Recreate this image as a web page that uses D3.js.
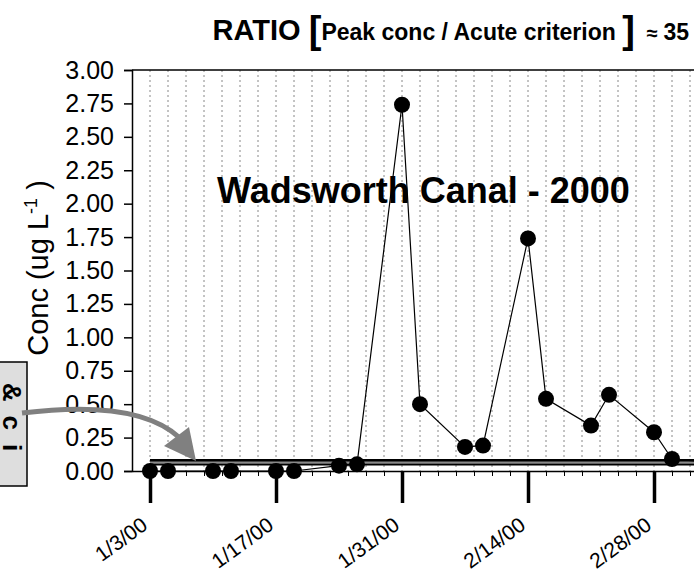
<!DOCTYPE html>
<html>
<head>
<meta charset="utf-8">
<script src="https://cdn.jsdelivr.net/npm/d3@7"></script>
<style>
  body { margin: 0; background: #fff; }
  svg { display: block; font-family: "Liberation Sans", Arial, sans-serif; }
  .narrow { font-family: "Liberation Sans Narrow", "Arial Narrow", "Liberation Sans", sans-serif; font-weight: bold; }
</style>
</head>
<body>
<div id="chart"></div>
<script>
// sample dates and measured concentrations (ug/L)
const sampleDates = ["2000-01-03", "2000-01-05", "2000-01-10", "2000-01-12", "2000-01-17", "2000-01-19",
  "2000-01-24", "2000-01-26", "2000-01-31", "2000-02-02", "2000-02-07", "2000-02-09", "2000-02-14",
  "2000-02-16", "2000-02-21", "2000-02-23", "2000-02-28", "2000-03-01", "2000-03-06"];
const concValues = [0, 0, 0, 0, 0, 0, 0.04, 0.05, 2.74, 0.50, 0.18, 0.19, 1.74, 0.54, 0.34, 0.57, 0.29, 0.09, 0.06];

// criterion lines (acute, mid, chronic)
const criteria = [0.078, 0.064, 0.049];

const yTicks = [0, 0.25, 0.5, 0.75, 1, 1.25, 1.5, 1.75, 2, 2.25, 2.5, 2.75, 3];
const xTickDates = ["2000-01-03", "2000-01-17", "2000-01-31", "2000-02-14", "2000-02-28"];
const xTickLabels = ["1/3/00", "1/17/00", "1/31/00", "2/14/00", "2/28/00"];

(function () {

  const width = 694, height = 571;
  const parse = d3.utcParse('%Y-%m-%d');

  const svg = d3.select('#chart')
    .append('svg')
    .attr('width', width)
    .attr('height', height);

  const x = d3.scaleUtc()
    .domain([parse('2000-01-01'), parse('2000-03-04')])
    .range([132, 699]);

  const y = d3.scaleLinear()
    .domain([0, 3])
    .range([471, 70]);

  const start = parse(xTickDates[0]);
  const end = x.domain()[1];
  const everyOther = d3.utcDay.range(start, end, 2);

  // dotted vertical grid
  svg.append('g')
    .selectAll('line')
    .data(everyOther)
    .join('line')
    .attr('x1', d => x(d)).attr('x2', d => x(d))
    .attr('y1', y(3)).attr('y2', y(0))
    .attr('stroke', '#888')
    .attr('stroke-width', 1)
    .attr('stroke-dasharray', '2,3');

  // top frame line
  svg.append('line')
    .attr('x1', x.range()[0]).attr('x2', x.range()[1])
    .attr('y1', y(3)).attr('y2', y(3))
    .attr('stroke', 'black').attr('stroke-width', 1.5);

  // y axis
  const yAxis = svg.append('g')
    .attr('transform', `translate(${x.range()[0]},0)`)
    .call(d3.axisLeft(y).tickValues(yTicks).tickSize(8).tickPadding(10).tickFormat(d3.format('.2f')));
  yAxis.select('.domain').attr('stroke-width', 1.5);
  yAxis.selectAll('text').attr('font-size', 25).attr('fill', 'black')
    .attr('font-family', '"Liberation Sans", Arial, sans-serif');
  yAxis.selectAll('line').attr('stroke-width', 1.5);

  // x axis: minor ticks every 2 days
  const xMinor = svg.append('g')
    .attr('transform', `translate(0,${y(0)})`)
    .call(d3.axisBottom(x).tickValues(everyOther).tickSize(5).tickFormat('').tickSizeOuter(0));
  xMinor.select('.domain').attr('stroke-width', 1.5);

  // x axis: major ticks every 14 days
  const xMajor = svg.append('g')
    .attr('transform', `translate(0,${y(0)})`)
    .call(d3.axisBottom(x).tickValues(xTickDates.map(parse)).tickSize(32).tickFormat('').tickSizeOuter(0));
  xMajor.select('.domain').remove();
  xMajor.selectAll('line').attr('stroke-width', 3.5);

  svg.append('g')
    .selectAll('text')
    .data(xTickDates)
    .join('text')
    .attr('transform', d => `translate(${x(parse(d)) - 1},${y(0) + 57}) rotate(-36)`)
    .attr('text-anchor', 'end')
    .attr('font-size', 21)
    .text((d, i) => xTickLabels[i]);

  // criterion band
  const critStroke = ['black', '#8a8a8a', 'black'];
  const critWidth = [3, 2, 2];
  svg.append('g')
    .selectAll('line')
    .data(criteria)
    .join('line')
    .attr('x1', x(start)).attr('x2', x.range()[1])
    .attr('y1', d => y(d)).attr('y2', d => y(d))
    .attr('stroke', (d, i) => critStroke[i])
    .attr('stroke-width', (d, i) => critWidth[i]);

  // series
  const points = sampleDates.map((d, i) => ({ date: parse(d), value: concValues[i] }));

  const line = d3.line()
    .x(d => x(d.date))
    .y(d => y(d.value));

  svg.append('path')
    .datum(points)
    .attr('d', line)
    .attr('fill', 'none')
    .attr('stroke', 'black')
    .attr('stroke-width', 1.2);

  svg.append('g')
    .selectAll('circle')
    .data(points)
    .join('circle')
    .attr('cx', d => x(d.date))
    .attr('cy', d => y(d.value))
    .attr('r', 8)
    .attr('fill', 'black');

  // y label
  const yLabel = svg.append('text')
    .attr('transform', `translate(48,268) rotate(-90)`)
    .attr('text-anchor', 'middle')
    .attr('font-size', 29);
  yLabel.append('tspan').text('Conc (ug L');
  yLabel.append('tspan').attr('dy', -11).attr('font-size', 18).text('-1');
  yLabel.append('tspan').attr('dy', 11).text(' )');

  // in-plot site label
  svg.append('text')
    .attr('x', 217).attr('y', 203)
    .attr('font-size', 36)
    .attr('font-weight', 'bold')
    .text('Wadsworth Canal - 2000');

  // title
  const title = svg.append('text')
    .attr('class', 'narrow')
    .attr('x', 689).attr('y', 40)
    .attr('text-anchor', 'end');
  title.append('tspan').attr('font-size', 29).text('RATIO ');
  title.append('tspan').attr('font-size', 38).attr('dy', 3).text('[');
  title.append('tspan').attr('font-size', 23).attr('dy', -3).text('Peak conc / Acute criterion ');
  title.append('tspan').attr('font-size', 38).attr('dy', 3).text(']');
  title.append('tspan').attr('font-size', 20).attr('dy', -3).attr('dx', 12).text('≈ ');
  title.append('tspan').attr('font-size', 23).text('35');

  // side note box (clipped at page edge)
  svg.append('rect')
    .attr('x', -2).attr('y', 362)
    .attr('width', 29).attr('height', 124)
    .attr('fill', '#dedede')
    .attr('stroke', 'black')
    .attr('stroke-width', 1.5);

  svg.append('text')
    .attr('transform', 'translate(3,424) rotate(90)')
    .attr('text-anchor', 'middle')
    .attr('font-size', 26)
    .attr('font-weight', 'bold')
    .attr('letter-spacing', 14)
    .text('&ci');

  // pointer arrow
  svg.append('path')
    .attr('d', 'M22,413 C95,404 150,410 180,438')
    .attr('fill', 'none')
    .attr('stroke', '#808080')
    .attr('stroke-width', 5);

  svg.append('path')
    .attr('d', 'M164,446 L189,427 L196,461 Z')
    .attr('fill', '#808080');

})();
</script>
</body>
</html>
